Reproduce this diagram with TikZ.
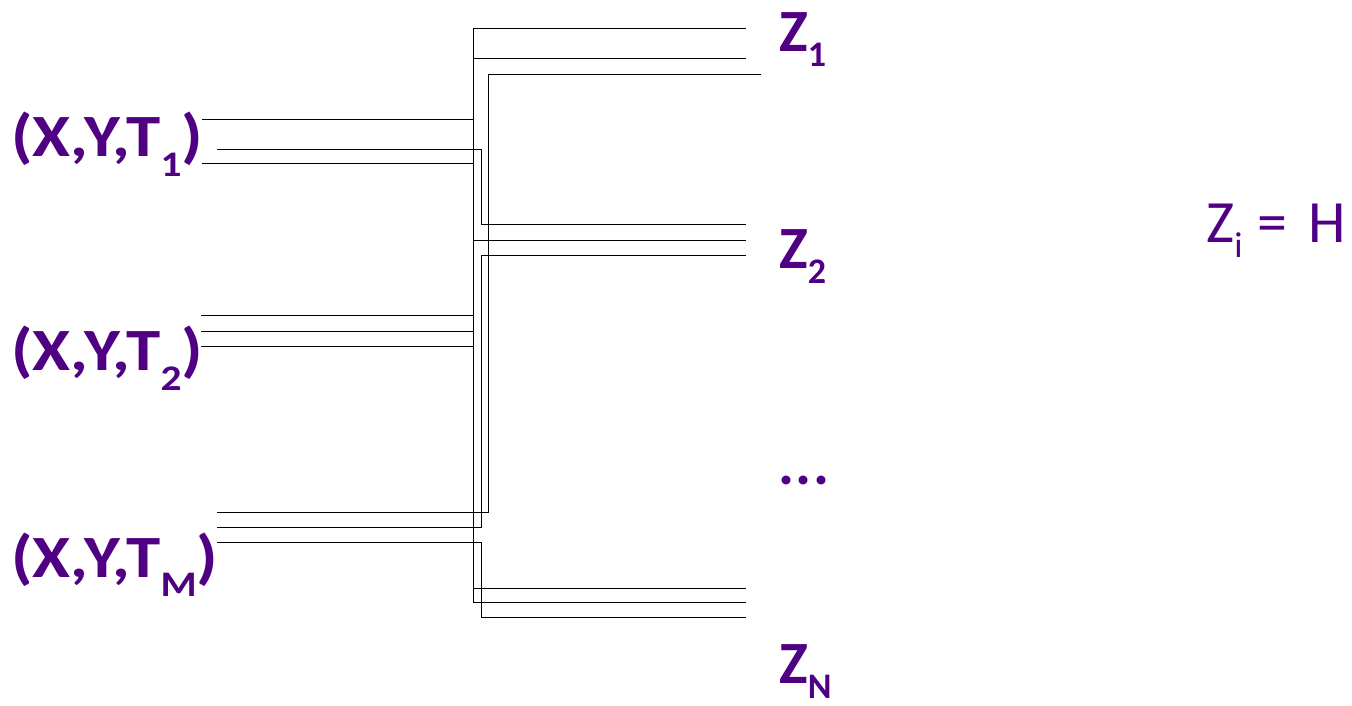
\documentclass[tikz,border=0pt]{standalone}
\usepackage{fontspec}
\usepackage{graphicx}
\setmainfont{Carlito}
\definecolor{ink}{RGB}{80,0,130}
\tikzset{
  wire/.style={line width=0.8pt, black},
  lbl/.style={anchor=base west, inner sep=0pt, text=ink, font=\fontsize{60}{72}\selectfont\bfseries},
  eq/.style={anchor=base west, inner sep=0pt, text=ink, font=\fontsize{60}{72}\selectfont},
}
\newcommand{\sbs}[2]{\raisebox{-#1pt}{\fontsize{36}{40}\selectfont #2}}
\newcommand{\xyt}[2]{\scalebox{1.15}[1]{(X,Y,T\sbs{#1}{#2})}}
\begin{document}
\begin{tikzpicture}[x=1pt,y=-1pt]
\useasboundingbox (0,0) rectangle (1352,706);
% labels
\node[lbl] (in1) at (11,157) {\xyt{20}{1}};
\node[lbl] (in2) at (11,370) {\xyt{20}{2}};
\node[lbl] (inM) at (11,577) {\xyt{19}{M}};
\node[lbl] (z1) at (779,52) {Z\sbs{15}{1}};
\node[lbl] (z2) at (779,268) {Z\sbs{15}{2}};
\node[lbl] (zn) at (779,683) {Z\sbs{15}{N}};
\node[lbl] (dots) at (778,484) {.\kern1.5pt.\kern1.5pt.};
\node[eq] (zi) at (1206,242) {Z\sbs{15}{i}\kern15pt=\kern21pt H};
% input wire ends
\coordinate (a1) at (202,119); \coordinate (b1) at (217,149); \coordinate (c1) at (202,163);
\coordinate (a2) at (201,315); \coordinate (b2) at (201,331); \coordinate (c2) at (201,346);
\coordinate (aM) at (217,512); \coordinate (bM) at (217,527); \coordinate (cM) at (217,542);
% output wire ends
\coordinate (o11) at (746,28); \coordinate (o12) at (746,58); \coordinate (o13) at (761,74);
\coordinate (o21) at (746,224); \coordinate (o22) at (746,240); \coordinate (o23) at (746,255);
\coordinate (on1) at (746,588); \coordinate (on2) at (746,602); \coordinate (on3) at (746,617);
% bus
\draw[wire] (473,28) -- (473,602);
\draw[wire] (473,28) -- (o11);
\draw[wire] (473,58) -- (o12);
\draw[wire] (aM) -| (488,74) -- (o13);
\draw[wire] (a1) -- (473,119);
\draw[wire] (b1) -| (481,224) -- (o21);
\draw[wire] (c1) -- (473,163);
\draw[wire] (473,240) -- (o22);
\draw[wire] (bM) -| (481,255) -- (o23);
\draw[wire] (a2) -- (473,315);
\draw[wire] (b2) -- (473,331);
\draw[wire] (c2) -- (473,346);
\draw[wire] (cM) -| (481,617) -- (on3);
\draw[wire] (473,588) -- (on1);
\draw[wire] (473,602) -- (on2);
\end{tikzpicture}
\end{document}
